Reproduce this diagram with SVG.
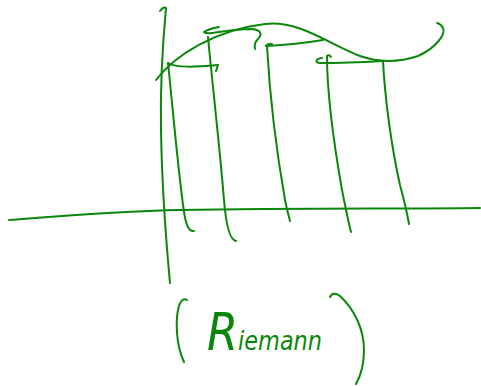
<svg xmlns="http://www.w3.org/2000/svg" width="481" height="386" viewBox="0 0 481 386">
<style>
.s{fill:none;stroke:#0a870a;stroke-width:2;stroke-linecap:round;stroke-linejoin:round}
.t{fill:#0a870a;font-family:"DejaVu Sans",sans-serif;font-style:italic}
</style>
<rect width="481" height="386" fill="#ffffff"/>
<g id="axes">
<path class="s" d="M160,11 Q164,6 166,8 C163,40 160,80 161,130 C162,190 166,240 170,283"/>
<path class="s" d="M9,220 C60,216 120,211 180,210 C300,208 400,209 480,208"/>
</g>
<g id="curve">
<path class="s" d="M156,80 C175,55 215,30 265,24 C300,20 330,45 360,56 C380,63 400,62 418,56 C436,48 446,34 443,28 Q441,24 437,23"/>
</g>
<g id="rect1">
<path class="s" d="M168,63 C176,68 195,67 218,65 L216,71"/>
<path class="s" d="M168,63 C172,100 178,170 184,212 C186,225 189,232 194,231"/>
</g>
<g id="rect2">
<path class="s" d="M219,27 Q208,29 204,32 Q206,34 212,33 C225,31 242,29 252,29 C262,30 262,35 258,39 C255,42 254,45 255,49"/>
<path class="s" d="M208,37 C212,80 220,150 224,200 C226,225 230,240 236,241"/>
</g>
<g id="rect3">
<path class="s" d="M266,46 Q268,43 272,44"/>
<path class="s" d="M266,46 C285,45 305,43 323,40"/>
<path class="s" d="M267,46 C270,100 278,160 285,200 C287,210 289,217 290,221"/>
</g>
<g id="rect4">
<path class="s" d="M322,58 C315,59 315,63 320,63 C340,63 365,62 383,61"/>
<path class="s" d="M331,57 Q329,54 327,56 C327,100 335,150 342,190 C346,210 349,225 351,232"/>
</g>
<g id="rect5">
<path class="s" d="M383,61 C385,100 392,150 400,185 C404,200 407,212 409,224"/>
</g>
<g id="label">
<path class="s" d="M187,300 Q182,297 179,306 C175,320 176,345 184,362"/>
<path class="s" d="M330,297 Q333,291 340,296 C355,310 364,330 364,350 C364,365 360,377 356,384"/>
<text class="t" x="207" y="350" textLength="115" lengthAdjust="spacingAndGlyphs"><tspan font-size="52">R</tspan><tspan font-size="26">iemann</tspan></text>
</g>
</svg>
